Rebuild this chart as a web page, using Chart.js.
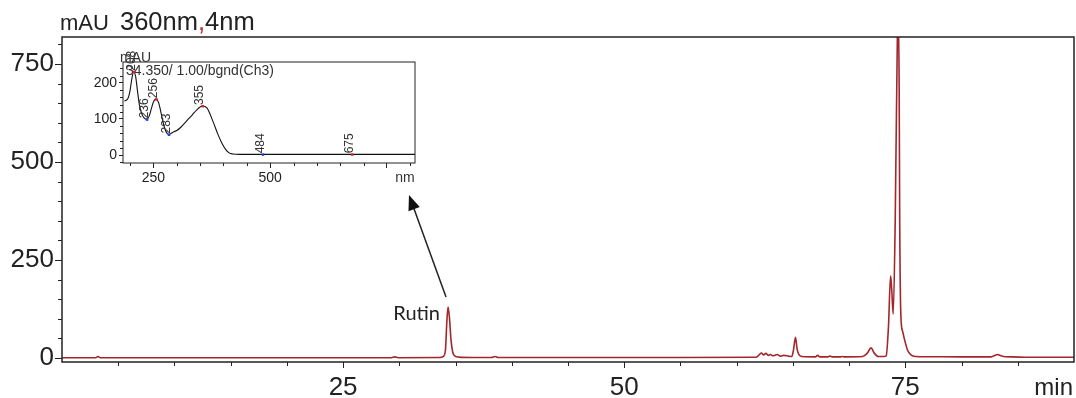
<!DOCTYPE html>
<html>
<head>
<meta charset="utf-8">
<script src="https://cdn.jsdelivr.net/npm/chart.js@4.4.1/dist/chart.umd.min.js"></script>
<style>
    html, body { margin: 0; padding: 0; background: #fff; }
    #wrap { position: relative; width: 1076px; height: 398px; }
    #main { position: absolute; left: 0; top: 0; }
    #inset { position: absolute; left: 80px; top: 40px; }
</style>
</head>
<body>
<div id="wrap">
    <canvas id="main" width="1076" height="398"></canvas>
    <canvas id="inset" width="345" height="150"></canvas>
</div>
<script>
// chromatogram, 360 nm
const timeMin = [0, 3.0, 3.2, 3.4, 29.3, 29.6, 29.9, 33.6, 33.9, 34.1, 34.22, 34.33, 34.45, 34.6, 34.75, 34.95, 35.3, 36.5,
    38.2, 38.5, 38.8, 45, 55, 61.7, 62.0, 62.2, 62.4, 62.6, 62.8, 63.0, 63.2, 63.6, 63.9, 64.2, 64.6, 64.9, 65.05, 65.23,
    65.38, 65.55, 65.8, 67.0, 67.2, 67.4, 68.1, 68.3, 68.5, 69.2, 69.4, 69.6, 71.2, 71.6, 71.95, 72.25, 72.6, 73.1, 73.3,
    73.5, 73.69, 73.8, 73.92, 74.1, 74.3, 74.36, 74.45, 74.5, 74.6, 74.76, 74.95, 75.2, 75.5, 75.9, 77, 80, 82.6, 82.9,
    83.2, 83.5, 83.9, 84.5, 86, 90]
const absMAU = [1, 1, 4, 1, 1, 3, 1, 1.5, 4, 20, 90, 130, 105, 45, 15, 5, 2.5, 1.5,
    1.5, 4, 1.5, 1.5, 1.5, 2, 8, 13, 8, 12, 7, 9, 6, 9, 5, 7, 5, 4, 20, 53,
    22, 8, 4, 3, 7, 3, 3, 5, 3, 3, 4, 3, 4, 12, 26, 12, 4, 4, 6,
    80, 210, 170, 112, 350, 840, 880, 700, 350, 110, 68, 45, 20, 8, 4, 3.5, 3, 3, 6,
    9, 6, 3.5, 3, 2, 2]
const mainXTicks = [25, 50, 75]
const mainXMinor = [5, 10, 15, 20, 30, 35, 40, 45, 55, 60, 65, 70, 80, 85]
const mainYTicks = [0, 250, 500, 750]
const mainYMinor = [50, 100, 150, 200, 300, 350, 400, 450, 550, 600, 650, 700, 800]
const rutinTime = 34.33
const rutinPeak = 130

// UV spectrum at 34.350 min
const wlNm = [188, 192, 196, 200, 204, 208, 212, 216, 220, 225, 230, 236, 241, 246, 251, 256, 261, 266, 271, 276, 283,
    290, 300, 307, 315, 325, 333, 342, 355, 365, 378, 388, 397, 405, 412, 420, 435, 484, 600, 675, 810]
const specMAU = [150, 152, 158, 178, 212, 231, 218, 178, 140, 115, 103, 99, 108, 130, 150, 155, 146, 120, 90, 68, 57,
    62, 68, 75, 86, 100, 111, 124, 136, 130, 92, 58, 32, 15, 6, 3, 2, 2, 2, 2, 2]
const specXTicks = [250, 500, 750]
const specXMinor = [200, 300, 350, 400, 450, 550, 600, 650, 700, 800]
const specYTicks = [0, 100, 200]
const specYMinor = [-20, 20, 40, 60, 80, 120, 140, 160, 180, 220, 240]
const specMarkNm = [208, 236, 256, 283, 355, 484, 675]
const specMarkMAU = [231, 99, 155, 57, 136, 2, 2]
const specMarkKind = ['max', 'min', 'max', 'min', 'max', 'min', 'max']

const SANS = "'Liberation Sans', Arial, sans-serif"
const NARROW = "'Liberation Sans Narrow', 'Arial Narrow', 'Liberation Sans', sans-serif"
const INK = '#222'

// box + minor ticks, shared by both charts
const framePlugin = {
    id: 'frame',
    afterDraw(chart, args, opts) {
        const { ctx, chartArea: a, scales } = chart
        ctx.save()
        ctx.strokeStyle = INK
        ctx.lineWidth = opts.width
        ctx.strokeRect(a.left, a.top, a.right - a.left, a.bottom - a.top)
        ctx.lineWidth = 1
        ctx.beginPath()
        opts.xMinor.forEach(v => {
            const x = Math.round(scales.x.getPixelForValue(v)) + 0.5
            ctx.moveTo(x, a.bottom); ctx.lineTo(x, a.bottom + opts.minorLen)
        })
        opts.yMinor.forEach(v => {
            const y = Math.round(scales.y.getPixelForValue(v)) + 0.5
            ctx.moveTo(a.left, y); ctx.lineTo(a.left - opts.minorLen, y)
        })
        ctx.stroke()
        ctx.restore()
    }
}

function fixedTicks(values) {
    return scale => { scale.ticks = values.map(value => ({ value })) }
}

function axis(min, max, ticks, fit, font, tickLength, padding, cb) {
    return {
        type: 'linear', min, max,
        afterBuildTicks: fixedTicks(ticks),
        afterFit: fit,
        border: { display: false },
        grid: { drawOnChartArea: false, drawTicks: true, tickLength, tickColor: INK, tickWidth: 1 },
        ticks: { font, color: INK, padding, maxRotation: 0, autoSkip: false, callback: cb || (v => v) }
    }
}

const mainLabels = {
    id: 'mainLabels',
    afterDraw(chart) {
        const { ctx, scales } = chart
        ctx.save()
        ctx.fillStyle = INK
        ctx.textBaseline = 'alphabetic'
        ctx.font = `22px ${SANS}`
        ctx.fillText('mAU', 60, 30)
        ctx.font = `25.5px ${SANS}`
        let x = 120
        ctx.fillText('360nm', x, 30); x += ctx.measureText('360nm').width
        ctx.fillStyle = '#c0282a'
        ctx.fillText(',', x, 30); x += ctx.measureText(',').width
        ctx.fillStyle = INK
        ctx.fillText('4nm', x, 30)

        ctx.font = `24px ${SANS}`
        ctx.textAlign = 'right'
        ctx.fillText('min', 1073, 395)

        const px = scales.x.getPixelForValue(rutinTime)
        const py = scales.y.getPixelForValue(rutinPeak)
        ctx.font = '20px Lato, sans-serif'
        ctx.fillText('Rutin', px - 8, py + 13)

        // arrow to the spectrum
        const sx = px - 2, sy = py - 10, ex = 409, ey = 195
        const ang = Math.atan2(ey - sy, ex - sx)
        ctx.strokeStyle = INK
        ctx.lineWidth = 1.5
        ctx.beginPath()
        ctx.moveTo(sx, sy)
        ctx.lineTo(ex - 12 * Math.cos(ang), ey - 12 * Math.sin(ang))
        ctx.stroke()
        ctx.beginPath()
        ctx.moveTo(ex, ey)
        ctx.lineTo(ex - 15 * Math.cos(ang) + 6 * Math.sin(ang), ey - 15 * Math.sin(ang) - 6 * Math.cos(ang))
        ctx.lineTo(ex - 15 * Math.cos(ang) - 6 * Math.sin(ang), ey - 15 * Math.sin(ang) + 6 * Math.cos(ang))
        ctx.closePath()
        ctx.fillStyle = '#111'
        ctx.fill()
        ctx.restore()
    }
}

new Chart(document.getElementById('main'), {
    type: 'line',
    data: {
        datasets: [{
            data: timeMin.map((t, i) => ({ x: t, y: absMAU[i] })),
            borderColor: '#a3262b',
            borderWidth: 1.6,
            pointRadius: 0,
            cubicInterpolationMode: 'monotone',
            fill: false
        }]
    },
    options: {
        responsive: false,
        animation: false,
        events: [],
        layout: { padding: { top: 37, right: 2, left: 0, bottom: 0 } },
        scales: {
            x: axis(0, 90, mainXTicks, s => { s.height = 36 }, { family: SANS, size: 26 }, 6, 4),
            y: axis(-10, 819, mainYTicks, s => { s.width = 62 }, { family: SANS, size: 26 }, 7, 1)
        },
        plugins: {
            legend: { display: false },
            tooltip: { enabled: false },
            frame: { width: 1.5, xMinor: mainXMinor, yMinor: mainYMinor, minorLen: 4 }
        }
    },
    plugins: [framePlugin, mainLabels]
})

const insetLabels = {
    id: 'insetLabels',
    afterDraw(chart) {
        const { ctx, scales } = chart
        ctx.save()
        ctx.fillStyle = '#333'
        ctx.font = `14px ${NARROW}`
        ctx.textBaseline = 'middle'
        ctx.textAlign = 'center'
        ctx.fillText('nm', 325, 138)
        ctx.textAlign = 'left'
        ctx.textBaseline = 'alphabetic'
        ctx.fillText('mAU', 40, 22)
        ctx.fillText('34.350/ 1.00/bgnd(Ch3)', 46, 35)
        ctx.font = `12px ${NARROW}`
        specMarkNm.forEach((nm, i) => {
            const x = scales.x.getPixelForValue(nm)
            const y = scales.y.getPixelForValue(specMarkMAU[i])
            ctx.fillStyle = specMarkKind[i] === 'max' ? '#e02020' : '#2040e0'
            ctx.fillRect(x - 1, y - 1, 2.5, 2.5)
            ctx.save()
            ctx.translate(x + 1, y - 1)
            ctx.rotate(-Math.PI / 2)
            ctx.fillStyle = '#333'
            ctx.fillText(String(nm), 0, 0)
            ctx.restore()
        })
        ctx.restore()
    }
}

new Chart(document.getElementById('inset'), {
    type: 'line',
    data: {
        datasets: [{
            data: wlNm.map((w, i) => ({ x: w, y: specMAU[i] })),
            borderColor: '#111',
            borderWidth: 1.1,
            pointRadius: 0,
            cubicInterpolationMode: 'monotone',
            fill: false
        }]
    },
    options: {
        responsive: false,
        animation: false,
        events: [],
        layout: { padding: { top: 22, right: 10, left: 0, bottom: 0 } },
        scales: {
            x: axis(185, 810, specXTicks, s => { s.height = 27 }, { family: NARROW, size: 14 }, 5, 2, v => v === 750 ? '' : v),
            y: axis(-22, 258, specYTicks, s => { s.width = 43 }, { family: NARROW, size: 14 }, 4, 2)
        },
        plugins: {
            legend: { display: false },
            tooltip: { enabled: false },
            frame: { width: 1, xMinor: specXMinor, yMinor: specYMinor, minorLen: 3 }
        }
    },
    plugins: [framePlugin, insetLabels]
})
</script>
</body>
</html>
